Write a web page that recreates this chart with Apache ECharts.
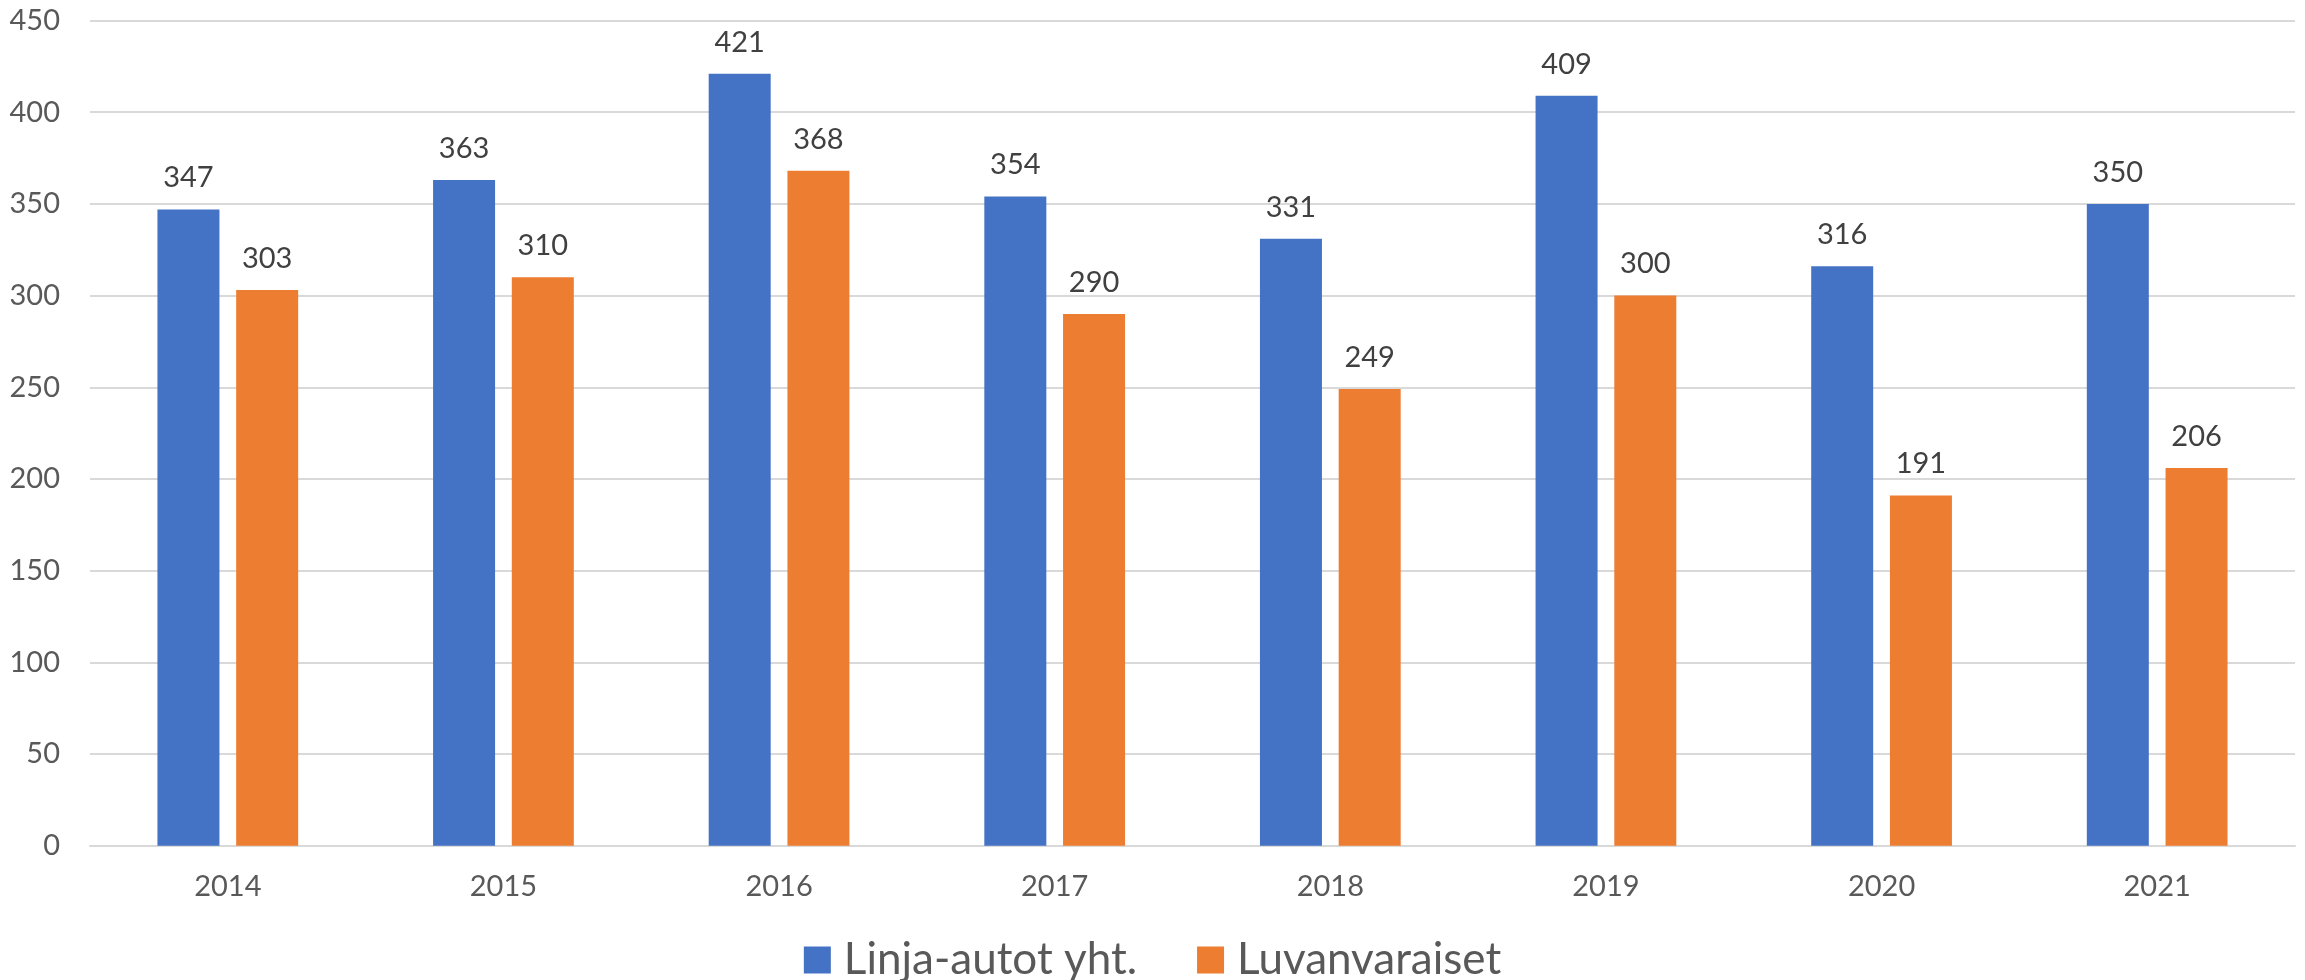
<!DOCTYPE html>
<html>
<head>
<meta charset="utf-8">
<script src="https://cdn.jsdelivr.net/npm/echarts@6/dist/echarts.min.js"></script>
<style>html,body{margin:0;padding:0;background:#fff}#c{width:2305px;height:980px}</style>
</head>
<body>
<div id="c"></div>
<script>
const categories = ['2014','2015','2016','2017','2018','2019','2020','2021'];
const linjaAutot = [347,363,421,354,331,409,316,350];
const luvanvaraiset = [303,310,368,290,249,300,191,206];
const seriesNames = ['Linja-autot yht.','Luvanvaraiset'];

const font = 'Lato';
const chart = echarts.init(document.getElementById('c'));
const labelCfg = {show:true, position:'top', distance:17, color:'#404040', fontSize:29, fontFamily:font};
chart.setOption({
  animation:false,
  grid:{left:90,right:10,top:20.5,bottom:134.3,containLabel:false},
  legend:{
    data:seriesNames, top:933, left:'center',
    itemWidth:27, itemHeight:27, itemGap:60, icon:'rect',
    textStyle:{fontSize:44, color:'#595959', fontFamily:font, padding:[0,0,0,8]}
  },
  xAxis:{
    type:'category', data:categories,
    axisLine:{lineStyle:{color:'#D9D9D9',width:2}}, axisTick:{show:false},
    axisLabel:{color:'#595959',fontSize:29,fontFamily:font,margin:26}
  },
  yAxis:{
    type:'value', min:0, max:450, interval:50,
    axisLine:{show:false}, axisTick:{show:false},
    splitLine:{lineStyle:{color:'#D9D9D9',width:2}},
    axisLabel:{color:'#595959',fontSize:29,fontFamily:font,margin:30}
  },
  series:[
    {name:seriesNames[0], type:'bar', data:linjaAutot, itemStyle:{color:'#4472C4'}, barWidth:62, barGap:'27%', label:labelCfg},
    {name:seriesNames[1], type:'bar', data:luvanvaraiset, itemStyle:{color:'#ED7D31'}, barWidth:62, barGap:'27%', label:labelCfg}
  ]
});
</script>
</body>
</html>
